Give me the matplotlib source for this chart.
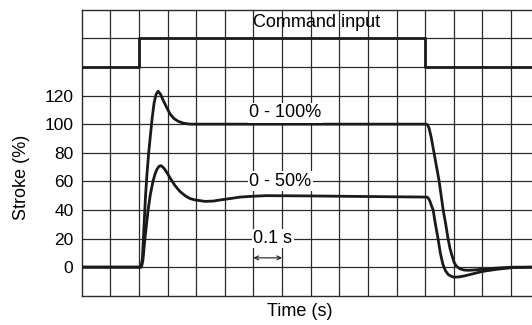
import numpy as np
import matplotlib.pyplot as plt

plt.rcParams['font.family'] = ['Liberation Sans', 'DejaVu Sans']

# command input (step signal, drawn in the upper band)
cmd_t = [0.0, 0.2, 1.2, 1.58]
cmd_y = [140, 160, 140, 140]

# 0 - 100 % stroke response
t100 = [0.0, 0.207, 0.212, 0.218, 0.223, 0.228, 0.234, 0.239, 0.246, 0.253, 0.260,
        0.267, 0.275, 0.284, 0.296, 0.309, 0.322, 0.337, 0.355, 0.378, 0.80, 1.203,
        1.209, 1.214, 1.222, 1.231, 1.240, 1.249, 1.256, 1.263, 1.272, 1.280, 1.287,
        1.294, 1.301, 1.308, 1.320, 1.335, 1.350, 1.370, 1.392, 1.42, 1.46, 1.507, 1.58]
y100 = [0, 0, 6, 30, 50, 65, 80, 90, 104, 115, 121,
        123, 121, 117, 112, 107, 104, 102, 100.7, 100, 100, 100,
        99.5, 97, 90, 80, 70, 60, 50, 40, 30, 20, 13,
        8, 3.5, 1, -1, -2, -2.2, -2, -1.6, -1.1, -0.5, 0, 0]

# 0 - 50 % stroke response
t50 = [0.0, 0.207, 0.210, 0.214, 0.221, 0.232, 0.240, 0.249, 0.256, 0.263, 0.270,
       0.277, 0.286, 0.295, 0.310, 0.326, 0.343, 0.361, 0.378, 0.396, 0.431, 0.46,
       0.484, 0.52, 0.553, 0.60, 0.644, 0.80, 0.94, 1.10, 1.207, 1.212, 1.217,
       1.222, 1.228, 1.236, 1.245, 1.253, 1.262, 1.271, 1.28, 1.29, 1.30, 1.32,
       1.34, 1.37, 1.40, 1.45, 1.507, 1.58]
y50 = [0, 0, 1, 5, 20, 40, 51, 60, 65, 68.5, 70.5,
       71, 69.5, 67, 62, 57, 53, 50, 48, 47, 46, 46.2,
       47, 48, 49, 49.6, 50, 49.8, 49.5, 49.2, 49, 48, 46,
       43, 40, 30, 20, 10, 2, -2.5, -5, -6.3, -7, -6.8,
       -6, -4.5, -3, -1.5, -0.3, 0]

fig = plt.figure(figsize=(5.32, 3.25), dpi=100)
ax = fig.add_axes([0.1536, 0.090, 0.8464, 0.880])

xmax = 1.5734
ax.set_xlim(0, xmax)
ax.set_ylim(-20, 180)

for gx in np.arange(0.1, xmax, 0.1):
    ax.axvline(gx, color='#2a2a2a', lw=0.9, zorder=1)
for gy in range(0, 180, 20):
    ax.axhline(gy, color='#2a2a2a', lw=0.9, zorder=1)

ax.plot(cmd_t, cmd_y, drawstyle='steps-post', color='#1a1a1a', lw=2, zorder=3)
ax.plot(t100, y100, color='#1a1a1a', lw=2, zorder=3, solid_joinstyle='round')
ax.plot(t50, y50, color='#1a1a1a', lw=2, zorder=3, solid_joinstyle='round')

fs = 13
box = dict(facecolor='white', edgecolor='none', pad=1)
ax.text(0.822, 171, 'Command input', ha='center', va='center', fontsize=fs, zorder=4)
ax.text(0.712, 108, '0 - 100%', ha='center', va='center', fontsize=fs, bbox=box, zorder=4)
ax.text(0.693, 60, '0 - 50%', ha='center', va='center', fontsize=fs, bbox=box, zorder=4)
ax.text(0.668, 20, '0.1 s', ha='center', va='center', fontsize=fs, bbox=box, zorder=4)
ax.annotate('', xy=(0.6, 6.5), xytext=(0.7, 6.5),
            arrowprops=dict(arrowstyle='<->', lw=0.8, color='#1a1a1a',
                            shrinkA=0, shrinkB=0, mutation_scale=7), zorder=4)

ax.set_xticks([])
ax.set_yticks([0, 20, 40, 60, 80, 100, 120])
ax.tick_params(axis='y', length=0, labelsize=12.5, pad=6)
for s in ['left', 'bottom', 'top']:
    ax.spines[s].set_color('#2a2a2a')
    ax.spines[s].set_linewidth(1.0)
ax.spines['right'].set_visible(False)

fig.text(22 / 532, 1 - 177 / 325, 'Stroke (%)', rotation=90, ha='center', va='center', fontsize=fs)
fig.text(300 / 532, 1 - 311 / 325, 'Time (s)', ha='center', va='center', fontsize=fs)

fig.savefig('out.png', dpi=100)
